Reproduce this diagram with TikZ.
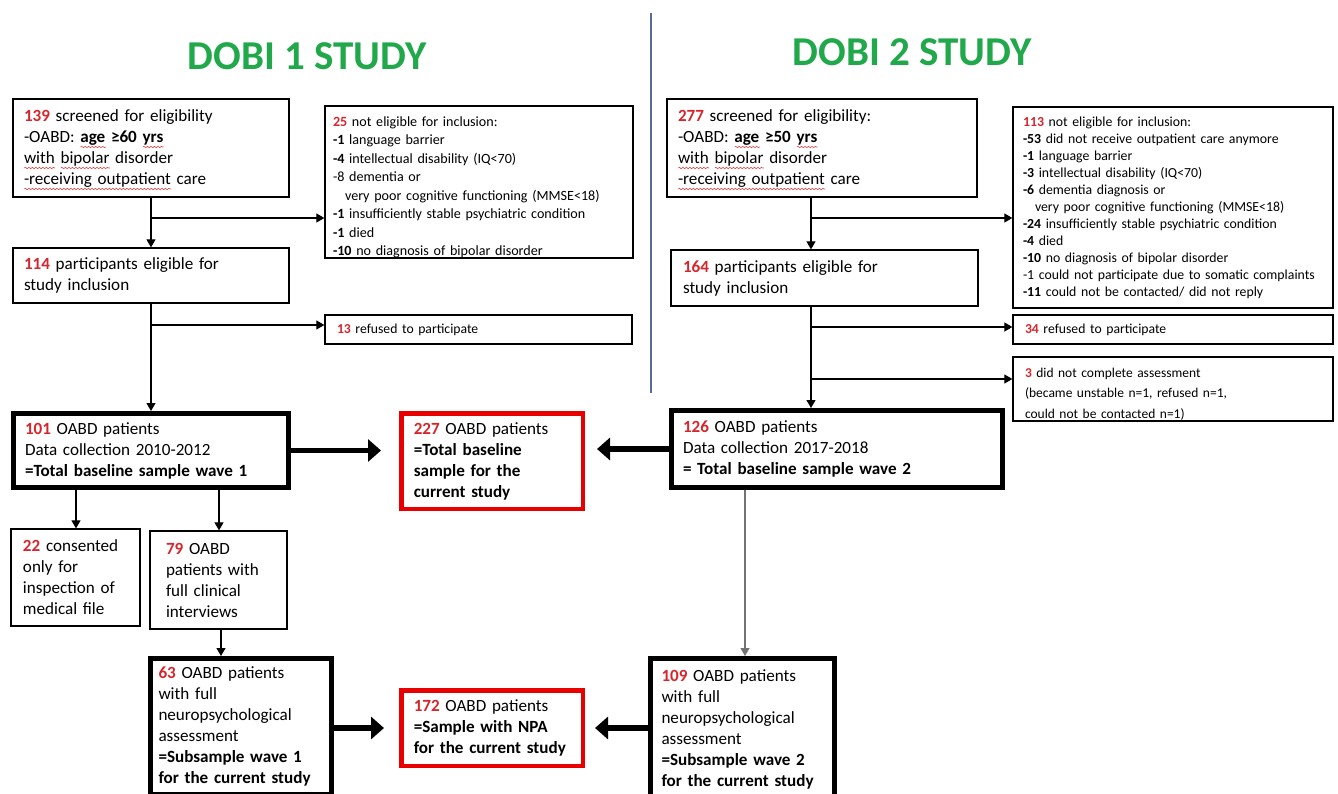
\documentclass[tikz,border=0pt]{standalone}
\usepackage{fontspec}
\setmainfont{Carlito}
\usetikzlibrary{arrows.meta,decorations.pathmorphing}
\definecolor{numred}{RGB}{214,38,44}
\definecolor{boxred}{RGB}{232,0,0}
\definecolor{titlegreen}{RGB}{32,168,74}
\definecolor{divblue}{RGB}{90,105,150}
\definecolor{sqred}{RGB}{225,70,70}
\newcommand\nr[1]{\textcolor{numred}{\textbf{#1}}}
\newcommand\mainsz{\fontsize{17.1}{21}\selectfont}
\newcommand\smallsz{\fontsize{14.1}{18.5}\selectfont}
\newsavebox\rwbox
\newlength\rwlen
\newcommand\rw[1]{\leavevmode\sbox\rwbox{#1}\setlength\rwlen{\wd\rwbox}%
  \rlap{\raisebox{-4pt}{\tikz[x=1pt,y=1pt,baseline=0pt]\draw[sqred,line width=0.6pt,decorate,decoration={snake,amplitude=0.7pt,segment length=3.5pt}] (0,0)--(\rwlen,0);}}\usebox\rwbox}
\begin{document}
\begin{tikzpicture}[x=1pt,y=-1pt,
  box/.style={draw=black, line width=1.3pt, align=left, inner ysep=0pt, font=\mainsz},
  thickbox/.style={box, line width=5pt},
  redbox/.style={box, draw=boxred, line width=4.5pt},
  smallbox/.style={box, font=\smallsz},
  arr/.style={line width=1.2pt, -{Triangle[length=8pt,width=9pt]}},
  grayarr/.style={line width=1.1pt, draw=black!55, -{Triangle[length=8pt,width=9pt]}},
  bigarr/.style={line width=5.5pt, -{Triangle[length=13pt,width=22pt]}},
  title/.style={text=titlegreen, font=\fontsize{41}{48}\selectfont\bfseries, inner sep=0pt}]
\useasboundingbox (0,0) rectangle (1338,794);
\clip (0,0) rectangle (1338,794);

% titles and divider
\node[title] (T1) at (307,56) {DOBI 1 STUDY};
\node[title] (T2) at (912,52) {DOBI 2 STUDY};
\draw[divblue, line width=1.2pt] (651,13) -- (651,393);

% DOBI 1
\node[box, minimum width=276pt, minimum height=98pt, text width=254pt, inner xsep=11pt] (A1) at (151,148)
  {\rule{0pt}{16pt}\nr{139} screened for eligibility\\-OABD: \textbf{\rw{age} ≥60 \rw{yrs}}\\\rw{with} \rw{bipolar} disorder\\\rw{-receiving outpatient} care};
\node[smallbox, minimum width=308pt, minimum height=150pt, text width=292pt, inner xsep=8pt] (E1) at (479,182)
  {\rule{0pt}{20pt}\nr{25} not eligible for inclusion:\\
   \textbf{-1} language barrier\\
   \textbf{-4} intellectual disability (IQ<70)\\
   -8 dementia or\\
   \hspace*{12pt}very poor cognitive functioning (MMSE<18)\\
   \textbf{-1} insufficiently stable psychiatric condition\\
   \textbf{-1} died\\
   \textbf{-10} no diagnosis of bipolar disorder};
\node[box, minimum width=276pt, minimum height=55pt, text width=254pt, inner xsep=11pt] (B1) at (151,275.5)
  {\nr{114} participants eligible for\\study inclusion};
\node[smallbox, font=\fontsize{13.7}{17}\selectfont, minimum width=307pt, minimum height=29pt, text width=283pt, inner xsep=12pt] (R1) at (478.5,329.5)
  {\nr{13} refused to participate};
\node[thickbox, minimum width=275pt, minimum height=74pt, text width=252pt, inner xsep=11.5pt] (C1) at (151,450.5)
  {\nr{101} OABD patients\\Data collection 2010-2012\\\textbf{=Total baseline sample wave 1}};
\node[redbox, minimum width=181.5pt, minimum height=95.5pt, text width=156.5pt, inner xsep=12.5pt] (Red1) at (492,461)
  {\nr{227} OABD patients\\\textbf{=Total baseline}\\\textbf{sample for the}\\\textbf{current study}};
\node[box, minimum width=129pt, minimum height=97pt, text width=105pt, inner xsep=12pt] (D1) at (75.5,577.5)
  {\nr{22} consented\\only for\\inspection of\\medical file};
\node[box, minimum width=137pt, minimum height=98pt, text width=105pt, inner xsep=16pt] (D2) at (218.5,580)
  {\nr{79} OABD\\patients with\\full clinical\\interviews};
\node[thickbox, minimum width=181pt, minimum height=136pt, text width=165pt, inner xsep=8pt] (F1) at (241,726.5)
  {\nr{63} OABD patients\\with full\\neuropsychological\\assessment\\\textbf{=Subsample wave 1}\\\textbf{for the current study}};
\node[redbox, minimum width=181.5pt, minimum height=75.5pt, text width=156.5pt, inner xsep=12.5pt] (Red2) at (492,728)
  {\nr{172} OABD patients\\\textbf{=Sample with NPA}\\\textbf{for the current study}};

% DOBI 2
\node[box, minimum width=310pt, minimum height=98pt, text width=288pt, inner xsep=11pt] (A2) at (822,148)
  {\rule{0pt}{16pt}\nr{277} screened for eligibility:\\-OABD: \textbf{\rw{age} ≥50 \rw{yrs}}\\\rw{with} \rw{bipolar} disorder\\\rw{-receiving outpatient} care};
\node[smallbox, font=\fontsize{13.8}{17}\selectfont, minimum width=320pt, minimum height=201pt, text width=300pt, inner xsep=10pt] (E2) at (1173,207.5)
  {\nr{113} not eligible for inclusion:\\
   \textbf{-53} did not receive outpatient care anymore\\
   \textbf{-1} language barrier\\
   \textbf{-3} intellectual disability (IQ<70)\\
   \textbf{-6} dementia diagnosis or\\
   \hspace*{12pt}very poor cognitive functioning (MMSE<18)\\
   \textbf{-24} insufficiently stable psychiatric condition\\
   \textbf{-4} died\\
   \textbf{-10} no diagnosis of bipolar disorder\\
   \mbox{-1 could not participate due to somatic complaints}\\
   \textbf{-11} could not be contacted/ did not reply};
\node[box, minimum width=307pt, minimum height=56pt, text width=283pt, inner xsep=12pt] (B2) at (824.5,278)
  {\nr{164} participants eligible for\\study inclusion};
\node[smallbox, font=\fontsize{13.7}{17}\selectfont, minimum width=320pt, minimum height=29pt, text width=296pt, inner xsep=12pt] (R2) at (1173,329.5)
  {\nr{34} refused to participate};
\node[smallbox, font=\fontsize{13.5}{20.5}\selectfont, minimum width=320pt, minimum height=64pt, text width=296pt, inner xsep=12pt] (R3) at (1173,389)
  {\rule{0pt}{19pt}\nr{3} did not complete assessment\\(became unstable n=1, refused n=1,\\could not be contacted n=1)};
\node[thickbox, minimum width=331pt, minimum height=77pt, text width=308pt, inner xsep=11.5pt] (C2) at (837,449)
  {\nr{126} OABD patients\\Data collection 2017-2018\\\textbf{= Total baseline sample wave 2}};
\node[thickbox, minimum width=184pt, minimum height=141pt, text width=162pt, inner xsep=11pt] (F2) at (742.5,729)
  {\nr{109} OABD patients\\with full\\neuropsychological\\assessment\\\textbf{=Subsample wave 2}\\\textbf{for the current study}};

% junction coordinates
\coordinate (x1) at (151,0);
\coordinate (j1) at (151,218);
\coordinate (j2) at (151,325);
\coordinate (xd1) at (76,0);
\coordinate (xd2) at (219,0);
\coordinate (xf1) at (221,0);
\coordinate (x2) at (811,0);
\coordinate (k1) at (811,218);
\coordinate (k2) at (811,327);
\coordinate (k3) at (811,379);
\coordinate (xf2) at (745,0);

% DOBI 1 connectors
\draw[arr] (A1.south -| x1) -- (B1.north -| x1);
\draw[arr] (j1) -- (j1 -| E1.west);
\draw[arr] (B1.south -| x1) -- (C1.north -| x1);
\draw[arr] (j2) -- (j2 -| R1.west);
\draw[arr] (C1.south -| xd1) -- (D1.north -| xd1);
\draw[arr] (C1.south -| xd2) -- (D2.north -| xd2);
\draw[arr] (D2.south -| xf1) -- (F1.north -| xf1);
\draw[bigarr, shorten >=18pt] (C1.east) -- (C1.east -| Red1.west);
\draw[bigarr, shorten >=15pt] (F1.east |- Red2.west) -- (Red2.west);

% DOBI 2 connectors
\draw[arr] (A2.south -| x2) -- (B2.north -| x2);
\draw[arr] (k1) -- (k1 -| E2.west);
\draw[arr] (B2.south -| x2) -- (C2.north -| x2);
\draw[arr] (k2) -- (k2 -| R2.west);
\draw[arr] (k3) -- (k3 -| R3.west);
\draw[grayarr] (C2.south -| xf2) -- (F2.north -| xf2);
\draw[bigarr, shorten >=12pt] (C2.west) -- (C2.west -| Red1.east);
\draw[bigarr, shorten >=10pt] (F2.west |- Red2.east) -- (Red2.east);
\end{tikzpicture}
\end{document}
